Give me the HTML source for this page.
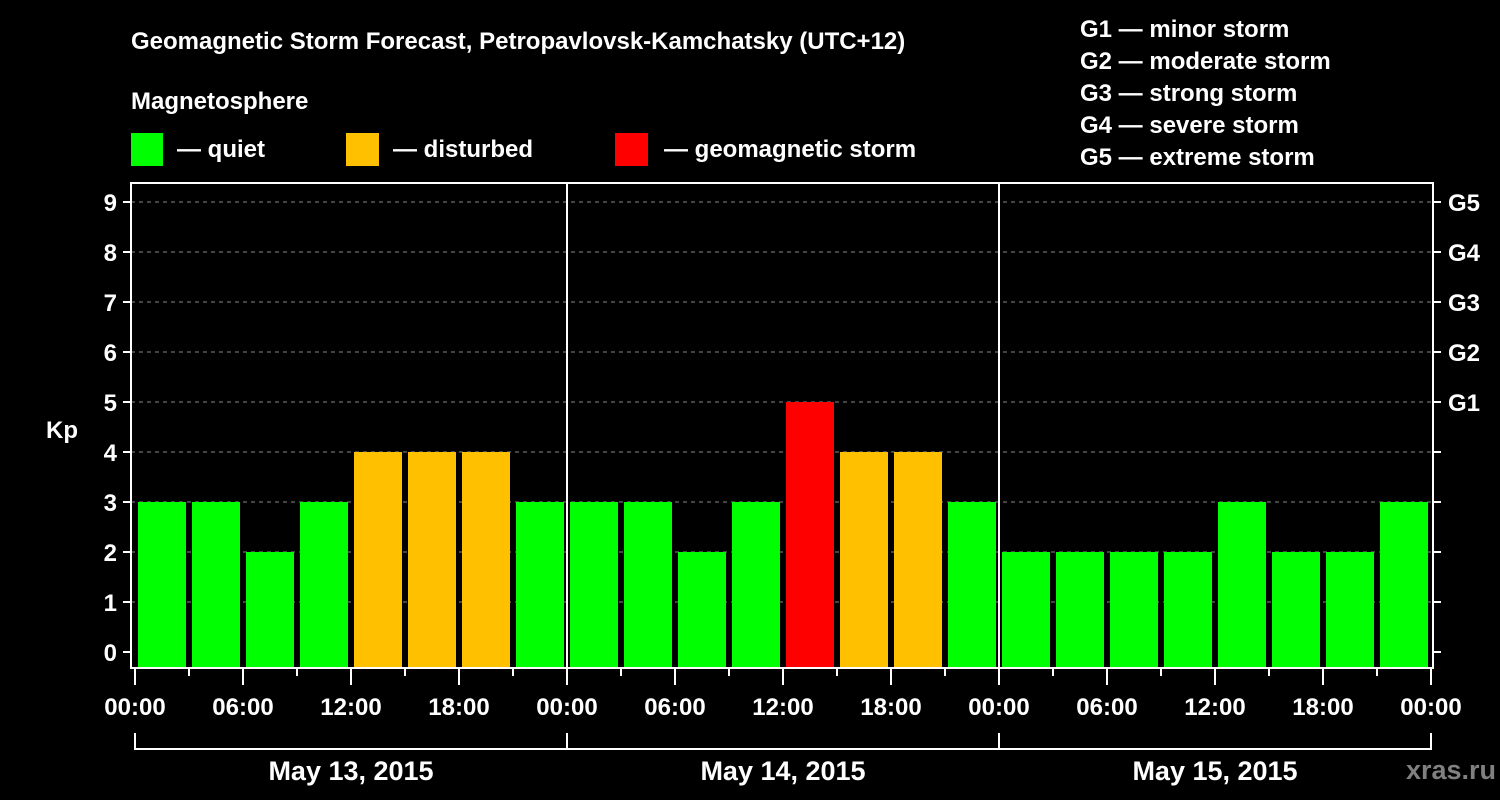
<!DOCTYPE html>
<html><head><meta charset="utf-8"><style>
html,body{margin:0;padding:0;background:#000;}
svg{display:block;font-family:"Liberation Sans",Arial,sans-serif;font-weight:bold;}
</style></head><body>
<svg id="chart" width="1500" height="800" viewBox="0 0 1500 800">
<rect width="1500" height="800" fill="#000"/>
<text x="131" y="49" fill="#fff" font-size="24">Geomagnetic Storm Forecast, Petropavlovsk-Kamchatsky (UTC+12)</text>
<text x="131" y="109" fill="#fff" font-size="24">Magnetosphere</text>
<g><rect x="131" y="133" width="32" height="33" fill="#00ff00"/><text x="177" y="157" fill="#fff" font-size="24">— quiet</text></g>
<g><rect x="346" y="133" width="33" height="33" fill="#ffc000"/><text x="393" y="157" fill="#fff" font-size="24">— disturbed</text></g>
<g><rect x="615" y="133" width="33" height="33" fill="#ff0000"/><text x="664" y="157" fill="#fff" font-size="24">— geomagnetic storm</text></g>
<g fill="#fff" font-size="24">
<text x="1080" y="37">G1 — minor storm</text>
<text x="1080" y="69">G2 — moderate storm</text>
<text x="1080" y="101">G3 — strong storm</text>
<text x="1080" y="133">G4 — severe storm</text>
<text x="1080" y="165">G5 — extreme storm</text>
</g>
<text x="62" y="438" fill="#fff" font-size="24" text-anchor="middle">Kp</text>
<text x="1496" y="779" fill="#808080" font-size="27" text-anchor="end">xras.ru</text>
<g id="plot"></g>
</svg>
<script>
const days = ["May 13, 2015","May 14, 2015","May 15, 2015"];
const kpValues = [3,3,2,3,4,4,4,3, 3,3,2,3,5,4,4,3, 2,2,2,2,3,2,2,3];
const yTicks = [0,1,2,3,4,5,6,7,8,9];
const gLabels = ["G1","G2","G3","G4","G5"];
const gLevels = [5,6,7,8,9];
const hourLabels = ["00:00","06:00","12:00","18:00"];

const NS="http://www.w3.org/2000/svg";
const plot=document.getElementById('plot');
const X0=135, dayW=432, slotW=dayW/8, FL=131, FR=1433, FT=183, FB=668;
function y(v){return 652-50*v;}
function x(i){return X0+i*slotW;}
function mk(tag,attrs){const e=document.createElementNS(NS,tag);for(const k in attrs)e.setAttribute(k,attrs[k]);plot.appendChild(e);return e;}

yTicks.forEach(v=>{
  if(v>0){const g=mk('line',{x1:FL,x2:FR,y1:y(v),y2:y(v),stroke:'#888','stroke-width':1,'stroke-dasharray':'4,4'});
  
  }
  const t=mk('line',{x1:FL-8,x2:FL,y1:y(v),y2:y(v),stroke:'#fff','stroke-width':2});
  
  
  const t2=mk('line',{x1:FR,x2:FR+8,y1:y(v),y2:y(v),stroke:'#fff','stroke-width':2});
  
  
  const l=mk('text',{x:FL-14,y:y(v)+9,fill:'#fff','font-size':24,'text-anchor':'end'});
  l.textContent=v;
  
  
});
gLabels.forEach((g,i)=>{
  const l=mk('text',{x:1448,y:y(gLevels[i])+9,fill:'#fff','font-size':24});
  l.textContent=g;
  
  
});
kpValues.forEach((v,i)=>{
  const c=v>=5?'#ff0000':(v>=4?'#ffc000':'#00ff00');
  const r=mk('rect',{x:x(i)+3,y:y(v),width:48,height:FB-y(v),fill:c});
  
  
});
const fr=mk('rect',{x:FL,y:FT,width:FR-FL,height:FB-FT,fill:'none',stroke:'#fff','stroke-width':2});


for(let d=1;d<days.length;d++){
  const s=mk('line',{x1:X0+d*dayW,x2:X0+d*dayW,y1:FT,y2:FB,stroke:'#fff','stroke-width':2});
  
  
}
for(let i=0;i<=kpValues.length;i++){
  const major=i%2===0;
  const t=mk('line',{x1:x(i),x2:x(i),y1:FB,y2:FB+(major?17:8),stroke:'#fff','stroke-width':2});
  
  
  if(major){
    const l=mk('text',{x:x(i),y:715,fill:'#fff','font-size':24,'text-anchor':'middle'});
    l.textContent=hourLabels[(i/2)%4];
    
    
  }
}
days.forEach((d,i)=>{
  const a=X0+i*dayW,b=a+dayW;
  const br=mk('path',{d:`M${a},733 V749 H${b} V733`,fill:'none',stroke:'#fff','stroke-width':2});
  
  
  const l=mk('text',{x:(a+b)/2,y:780,fill:'#fff','font-size':27,'text-anchor':'middle'});
  l.textContent=d;
  
  
});
</script>
</body></html>
